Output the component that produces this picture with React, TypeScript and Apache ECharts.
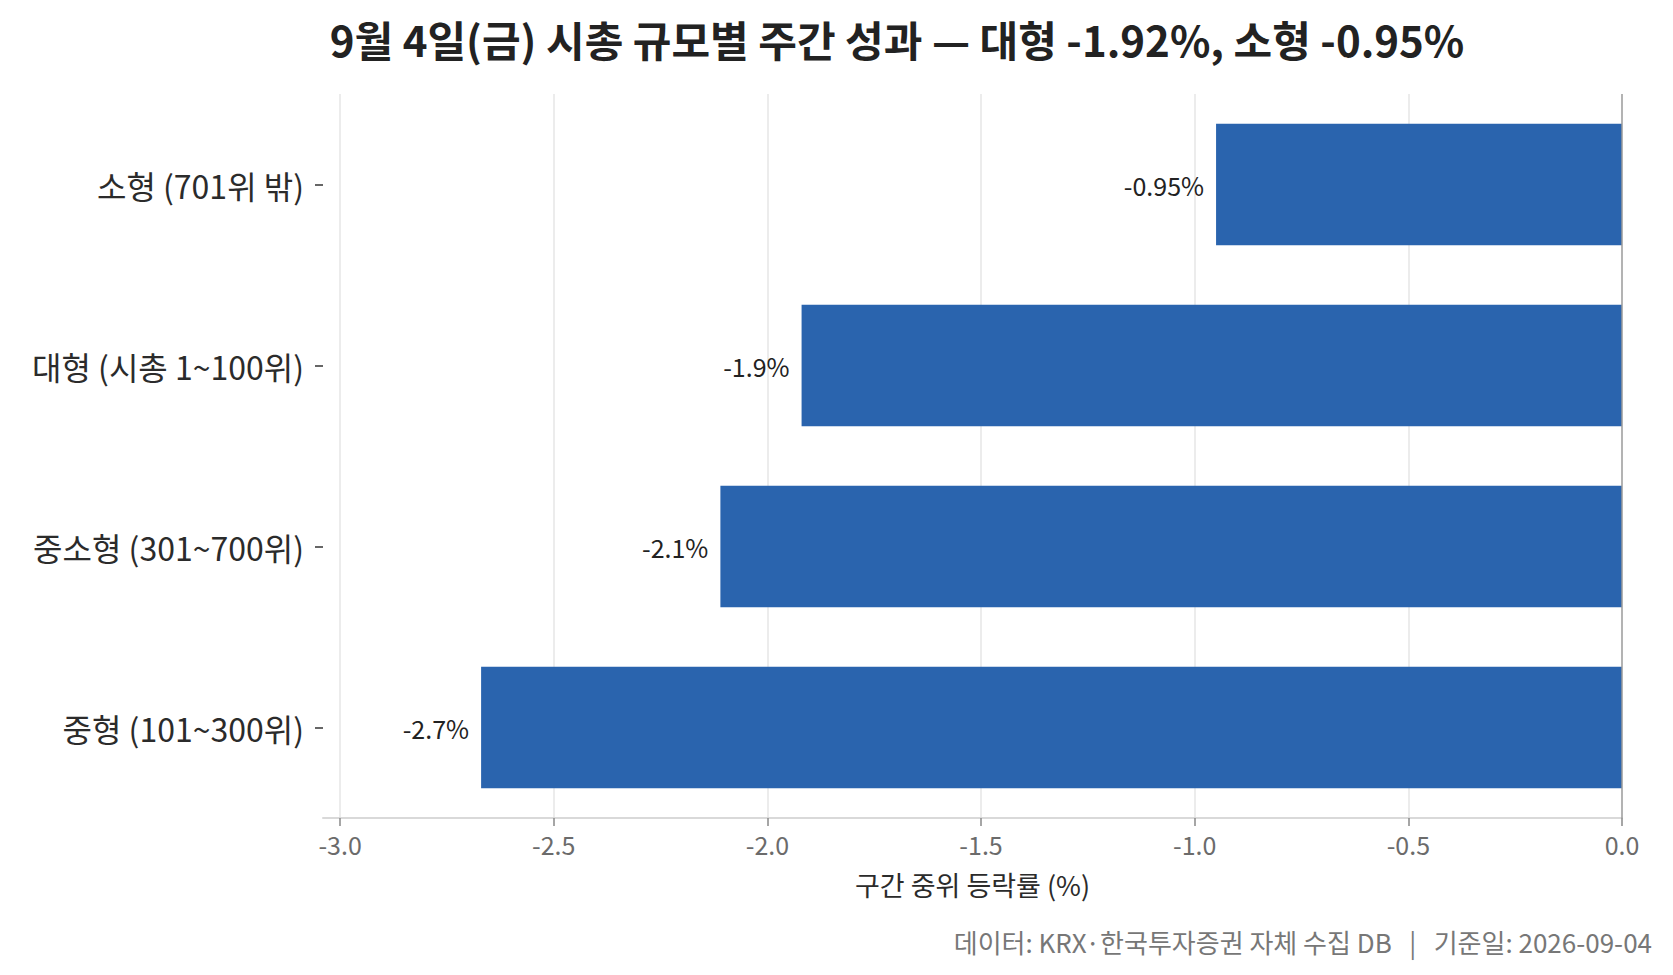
import React, { useEffect, useRef } from "react";
import * as echarts from "echarts";

const categories = ["소형 (701위 밖)", "대형 (시총 1~100위)", "중소형 (301~700위)", "중형 (101~300위)"];
const values = [-0.95, -1.92, -2.11, -2.67];
const valueLabels = ["-0.95%", "-1.9%", "-2.1%", "-2.7%"];
const xTicks = [-3.0, -2.5, -2.0, -1.5, -1.0, -0.5, 0.0];
const titleText = "9월 4일(금) 시총 규모별 주간 성과 — 대형 -1.92%, 소형 -0.95%";
const xAxisName = "구간 중위 등락률 (%)";
const footnote = "데이터: KRX·한국투자증권 자체 수집 DB\u00a0\u00a0\u00a0|\u00a0\u00a0\u00a0기준일: 2026-09-04";

const FONT = "'Noto Sans CJK KR', 'Noto Sans', sans-serif";

export default function App() {
  const ref = useRef<HTMLDivElement>(null);
  useEffect(() => {
    if (!ref.current) return;
    const chart = echarts.init(ref.current, null, { renderer: "svg" });
    chart.setOption({
      animation: false,
      backgroundColor: "#ffffff",
      textStyle: { fontFamily: FONT },
      grid: { left: 323, right: 51, top: 94, bottom: 157, containLabel: false },
      xAxis: {
        type: "value",
        min: -3.04,
        max: 0,
        name: xAxisName,
        nameLocation: "middle",
        nameGap: 53,
        nameTextStyle: { fontSize: 27, color: "#2b2b2b", fontFamily: FONT },
        axisLine: { show: true, lineStyle: { color: "#d9d9d9", width: 2 } },
        axisTick: { show: true, length: 8, lineStyle: { color: "#888", width: 1.5 }, customValues: xTicks },
        axisLabel: {
          customValues: xTicks,
          fontSize: 25,
          color: "#6b6b6b",
          margin: 13,
          fontFamily: FONT,
          formatter: (v: number) => v.toFixed(1),
        },
        splitLine: { show: false },
      },
      yAxis: {
        type: "category",
        data: categories,
        inverse: true,
        axisLine: { show: false, onZero: false },
        axisTick: { show: true, length: 8, alignWithLabel: true, lineStyle: { color: "#333", width: 1.5 } },
        axisLabel: { fontSize: 32, color: "#2b2b2b", margin: 19, fontFamily: FONT },
        splitLine: { show: false },
      },
      series: [
        {
          type: "bar",
          data: values,
          barWidth: "67%",
          itemStyle: { color: "#2a64ae" },
          label: {
            show: true,
            position: "left",
            distance: 12,
            fontSize: 25,
            color: "#222",
            fontFamily: FONT,
            formatter: (p: any) => valueLabels[p.dataIndex],
          },
          z: 2,
        },
        {
          type: "line",
          data: [],
          silent: true,
          z: 0,
          markLine: {
            z: 0,
            symbol: "none",
            silent: true,
            label: { show: false },
            lineStyle: { color: "#e6e6e6", width: 1.5, type: "solid" },
            data: xTicks.filter((t) => t !== 0).map((t) => ({ xAxis: t })),
          },
        },
        {
          type: "line",
          data: [],
          silent: true,
          z: 4,
          markLine: {
            z: 4,
            symbol: "none",
            silent: true,
            label: { show: false },
            lineStyle: { color: "#9a9a9a", width: 1.5, type: "solid" },
            data: [{ xAxis: 0 }],
          },
        },
      ],
      graphic: [
        {
          type: "text",
          x: 897,
          y: 38,
          style: {
            text: titleText,
            fontSize: 42,
            fontWeight: "bold",
            fill: "#222",
            fontFamily: FONT,
            textAlign: "center",
            textVerticalAlign: "middle",
          },
        },
        {
          type: "text",
          x: 1652,
          y: 941,
          style: {
            text: footnote,
            fontSize: 26,
            fill: "#777",
            fontFamily: FONT,
            textAlign: "right",
            textVerticalAlign: "middle",
          },
        },
      ],
    });
    return () => chart.dispose();
  }, []);
  return (
    <div
      ref={ref}
      style={{ position: "absolute", left: 0, top: 0, width: 1673, height: 975 }}
    />
  );
}
